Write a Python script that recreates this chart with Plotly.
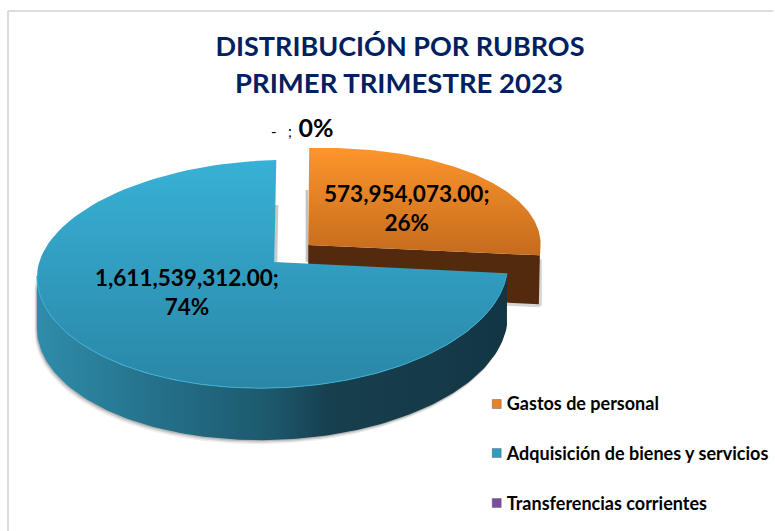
import math
import plotly.graph_objects as go

categories = ["Gastos de personal", "Adquisición de bienes y servicios", "Transferencias corrientes"]
values = [573954073.00, 1611539312.00, 0]
percent_labels = ["26%", "74%", "0%"]
legend_colors = ["#E5832A", "#2F9DBF", "#7A4FA0"]
title_lines = ["DISTRIBUCIÓN POR RUBROS", "PRIMER TRIMESTRE 2023"]

FONT = "Lato"
total = sum(values)
frac = [v / total for v in values]


def arc_pt(t, cx, cy, a, bb, bf, skew=-6.0, dxtop=4.0):
    s, c = math.sin(t), math.cos(t)
    x = cx + a * s + dxtop * max(c, 0)
    y = cy - (bb if c > 0 else bf) * c + skew * s
    return x, y


def arc(t0, t1, geo, n=120):
    return [arc_pt(t0 + (t1 - t0) * i / n, **geo) for i in range(n + 1)]


blue_geo = dict(cx=273, cy=270, a=236, bb=110, bf=118)
orange_geo = dict(cx=306, cy=252, a=236, bb=104, bf=118)
blue_apex = (275, 262)
orange_apex = (309, 245)
DEPTH = 52

t_split = frac[0] * 2 * math.pi
fig = go.Figure()


def poly(pts, **kw):
    fig.add_trace(go.Scatter(x=[p[0] for p in pts], y=[p[1] for p in pts], mode="lines",
                             fill="toself", hoverinfo="skip", showlegend=False,
                             line=dict(width=0), **kw))


def grad(kind, stops, start, stop):
    return dict(type=kind, start=start, stop=stop, colorscale=stops)


# orange slice: shadow, side and top
o_arc = arc(0, t_split, orange_geo)
tip = o_arc[-1]
poly([(orange_apex[0] - 2.5, 190), (orange_apex[0], 190), (orange_apex[0], 262),
      (orange_apex[0] - 2.5, 262)], fillcolor="rgba(120,120,120,0.45)")
poly([(orange_apex[0], orange_apex[1] + 51), (tip[0] - 1, tip[1] + 52),
      (tip[0] + 2, tip[1] + 50), (tip[0] + 2, tip[1] + 4)], fillcolor="rgba(120,120,120,0.3)")
poly([orange_apex, tip, (tip[0] - 1, tip[1] + 49), (orange_apex[0], orange_apex[1] + 47)],
     fillcolor="#532A0E")
poly([orange_apex] + o_arc,
     fillgradient=grad("vertical", [[0, "#FC952B"], [1, "#C56B1E"]], 148, 256))

# soft shadow under the blue slice side
b_side = arc(t_split, 1.5 * math.pi, blue_geo)
for off, op in ((4, 0.10), (2.5, 0.18), (1.2, 0.25)):
    poly([(x - off * 0.6, y) for x, y in b_side] +
         [(x - off * 0.6, y + DEPTH + off) for x, y in reversed(b_side)],
         fillcolor=f"rgba(90,90,90,{op})")
poly([(blue_apex[0], 205), (blue_apex[0] + 4, 205), (blue_apex[0] + 3, 262), (blue_apex[0], 262)],
     fillcolor="rgba(120,120,120,0.4)")

# blue slice: side and top
poly(b_side + [(x, y + DEPTH) for x, y in reversed(b_side)],
     fillgradient=grad("horizontal",
                       [[0, "#2F8DAB"], [0.25, "#25718B"], [0.5, "#1C586C"],
                        [0.62, "#173F4E"], [0.85, "#153A48"], [1, "#123543"]], 36, 510))
b_arc = arc(t_split, 2 * math.pi, blue_geo)
poly([blue_apex] + b_arc,
     fillgradient=grad("vertical", [[0, "#38B1D6"], [1, "#2A86A6"]], 160, 390))
front = arc(t_split, 1.5 * math.pi, blue_geo)
fig.add_trace(go.Scatter(x=[p[0] for p in front], y=[p[1] for p in front], mode="lines",
                         line=dict(color="#3FAFD0", width=1), hoverinfo="skip", showlegend=False))

# legend entries (symbols drawn next to the text, closer than the plotly legend allows)
for name in categories:
    fig.add_trace(go.Scatter(x=[None], y=[None], mode="markers", name=name, legendgroup=name,
                             marker=dict(symbol="square", size=1, color="rgba(0,0,0,0)")))
fig.add_trace(go.Scatter(
    x=[498, 498, 498], y=[404, 453, 503], mode="markers", hoverinfo="skip", showlegend=False,
    marker=dict(symbol="square", size=9, color=legend_colors,
                line=dict(color="rgba(70,70,70,0.35)", width=1))))

ann = [
    dict(x=408, y=208, text=f"<b>{values[0]:,.2f};<br>{percent_labels[0]}</b>",
         font=dict(size=22.5)),
    dict(x=187, y=292, text=f"<b>{values[1]:,.2f};<br>{percent_labels[1]}</b>",
         font=dict(size=22.5)),
    dict(x=303, y=127,
         text=f"<span style='font-size:15px'>-\u00a0\u00a0\u00a0;</span> <b>{percent_labels[2]}</b>",
         font=dict(size=25)),
    dict(x=400, y=82.5, text=f"<b>{title_lines[1]}</b>",
         font=dict(size=27.5, color="#002060")),
]
fig.update_layout(
    width=775, height=531, autosize=False,
    margin=dict(l=0, r=0, t=0, b=0),
    paper_bgcolor="white", plot_bgcolor="white",
    font=dict(family=FONT, color="black"),
    title=dict(text=f"<b>{title_lines[0]}</b>", x=400 / 775, xanchor="center",
               y=1 - 37 / 531, yanchor="top",
               font=dict(family=FONT, size=27, color="#002060")),
    xaxis=dict(range=[0, 775], visible=False, fixedrange=True),
    yaxis=dict(range=[531, 0], visible=False, fixedrange=True),
    showlegend=True,
    legend=dict(x=468 / 775, y=1 - 385 / 531, xanchor="left", yanchor="top",
                tracegroupgap=23.5, bgcolor="rgba(0,0,0,0)",
                font=dict(family=FONT, size=18, color="black", weight="bold")),
    annotations=[dict(xref="x", yref="y", showarrow=False, **a) for a in ann],
    shapes=[dict(type="line", xref="x", yref="y", x0=8, x1=775, y0=11, y1=11,
                 line=dict(color="#DDDDDD", width=2)),
            dict(type="line", xref="x", yref="y", x0=8, x1=8, y0=11, y1=531,
                 line=dict(color="#DDDDDD", width=2))],
)
fig.write_html("out.html", post_script="document.body.style.margin='0';",
               config={"displayModeBar": False})
